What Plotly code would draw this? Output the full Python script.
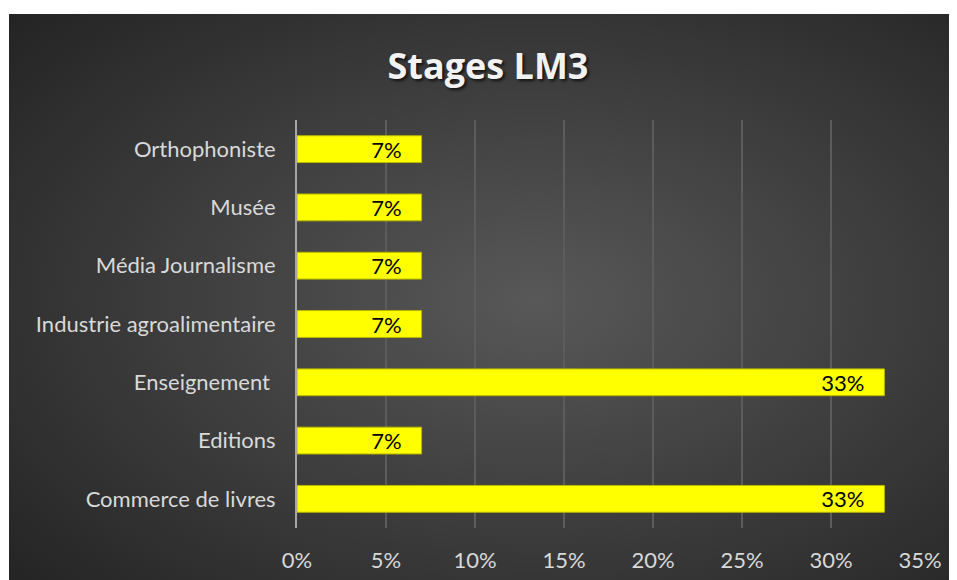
import base64
import plotly.graph_objects as go

# data
categories = ["Commerce de livres", "Editions", "Enseignement ", "Industrie agroalimentaire",
              "Média Journalisme", "Musée", "Orthophoniste"]
shares = [0.33, 0.07, 0.33, 0.07, 0.07, 0.07, 0.07]
labels = ["33%", "7%", "33%", "7%", "7%", "7%", "7%"]
x_ticks = [0, 0.05, 0.10, 0.15, 0.20, 0.25, 0.30, 0.35]

# page body has an 8px margin, so figure px = screen px - 8
W, H = 957, 580
L, R, T, B = 289, 45, 112, 60
pw, ph = W - L - R, H - T - B

# radial gradient background (excel dark style) as an svg image
svg = (
    '<svg xmlns="http://www.w3.org/2000/svg" width="956" height="574" preserveAspectRatio="none">'
    '<defs><radialGradient id="g" cx="55%" cy="50%" r="75%">'
    '<stop offset="0" stop-color="#585858"/><stop offset="1" stop-color="#232323"/>'
    '</radialGradient></defs><rect width="956" height="574" fill="url(#g)"/></svg>'
)
bg_src = "data:image/svg+xml;base64," + base64.b64encode(svg.encode()).decode()

label_font = dict(family="Lato", size=22, color="#000000")

fig = go.Figure()
fig.add_trace(go.Bar(
    y=categories, x=shares, orientation="h",
    text=labels, texttemplate="%{text}\u00a0\u00a0\u00a0", textposition="inside",
    insidetextanchor="end", constraintext="none",
    textfont=label_font, insidetextfont=label_font,
    marker=dict(color="#FFFF00", line=dict(color="#b8b800", width=1)),
    hoverinfo="skip",
))

fig.add_layout_image(dict(
    source=bg_src, xref="paper", yref="paper",
    x=(1 - L) / pw, y=(H - B - 6) / ph,
    sizex=(W - 1) / pw, sizey=(H - 6) / ph,
    xanchor="left", yanchor="top", sizing="stretch", layer="below",
))

fig.update_layout(
    width=W, height=H,
    margin=dict(l=L, r=R, t=T, b=B),
    paper_bgcolor="white", plot_bgcolor="rgba(0,0,0,0)",
    bargap=0.54, showlegend=False,
    title=dict(text="<b>Stages LM3</b>", x=480 / W, xref="container", y=1 - 58 / H,
               yref="container", xanchor="center", yanchor="middle",
               font=dict(family="Open Sans", size=36, color="#f2f2f2",
                         shadow="2px 2px 3px rgba(0,0,0,0.7)")),
    xaxis=dict(range=[0, 0.35], tickvals=x_ticks, tickformat=".0%",
               showgrid=True, gridcolor="#5c5c5c", gridwidth=1.5,
               zeroline=False, showline=False, ticks="",
               tickfont=dict(family="Lato", size=22, color="#d9d9d9"),
               ticklabelstandoff=17, fixedrange=True),
    yaxis=dict(showgrid=False, zeroline=False, showline=True, linecolor="#a6a6a6",
               linewidth=2, ticks="", ticklabelstandoff=15,
               tickfont=dict(family="Lato", size=22, color="#d9d9d9"),
               fixedrange=True),
)

fig.write_html("out.html")
